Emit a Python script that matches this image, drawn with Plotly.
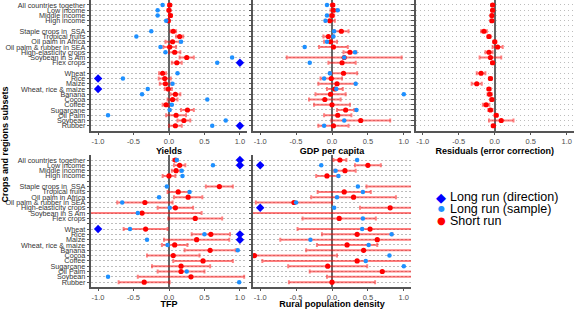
import plotly.graph_objects as go

# ---------------- data ----------------
rows = ["All countries together", "Low income", "Middle income", "High income", " ",
        "Staple crops in  SSA", "Tropical fruits", "Oil palm in Africa", "Oil palm & rubber in SEA",
        "High-elasticity crops", "Soybean in S Am", "Flex crops", "  ",
        "Wheat", "Rice", "Maize", "Wheat, rice & maize", "Banana", "Cocoa", "Coffee",
        "Sugarcane", "Oil Palm", "Soybean", "Rubber"]

N = None
# Yields
yields_sr = [0.01, 0.0, 0.02, -0.01, N, 0.06, 0.15, 0.05, 0.01, 0.08, 0.25, 0.11, N,
             -0.09, -0.06, -0.05, -0.01, 0.09, 0.05, -0.04, 0.26, 0.10, 0.21, 0.09]
yields_err = [0.02, 0.02, 0.02, 0.02, N, 0.04, 0.05, 0.10, 0.09, 0.08, 0.10, 0.07, N,
              0.05, 0.085, 0.08, 0.05, 0.07, 0.07, 0.05, 0.09, 0.14, 0.09, 0.09]
yields_sample = [-0.09, -0.16, -0.16, -0.04, N, -0.25, -0.46, 0.17, -0.12, -0.05, 0.89, 0.68, N,
                 0.12, -0.65, 0.05, -0.30, -0.38, 0.54, 0.04, 0.01, -0.86, 0.80, 0.61]
yields_dir = [N, N, N, N, N, N, N, N, N, N, N, 1.0, N,
              N, -1.0, N, -1.0, N, N, N, N, N, N, 1.0]

# GDP per capita
gdp_sr = [0.01, 0.02, 0.0, -0.03, N, 0.13, -0.05, -0.02, 0.02, 0.25, 0.17, 0.14, N,
          0.16, -0.01, 0.07, 0.04, -0.02, -0.10, 0.0, 0.19, 0.08, 0.40, 0.02]
gdp_err = [0.02, 0.04, 0.03, 0.07, N, 0.10, 0.07, 0.09, 0.20, 0.09, 0.80, 0.19, N,
           0.19, 0.15, 0.26, 0.11, 0.21, 0.22, 0.25, 0.12, 0.19, 0.41, 0.21]
gdp_sample = [-0.07, 0.08, -0.07, -0.09, N, 0.03, 0.02, -0.07, -0.38, 0.32, 0.17, -0.31, N,
              -0.03, -0.11, 0.33, 0.06, 1.0, N, N, 0.34, N, 0.17, -0.11]
gdp_dir = [N] * 24

# Residuals (error correction)
res_sr = [-0.03, -0.03, -0.04, -0.04, N, -0.15, -0.08, 0.0, 0.04, -0.08, -0.06, -0.03, N,
          -0.19, -0.06, -0.25, -0.08, -0.07, -0.04, -0.12, -0.06, 0.02, 0.09, -0.02]
res_err = [0.015, 0.015, 0.015, 0.015, N, 0.04, 0.02, 0.02, 0.07, 0.05, 0.15, 0.02, N,
           0.06, 0.02, 0.07, 0.02, 0.03, 0.02, 0.045, 0.03, 0.02, 0.17, 0.02]
res_sample = [N] * 24
res_dir = [N] * 24

# TFP
tfp_sr = [0.09, 0.15, 0.10, 0.0, N, 0.71, 0.13, 0.27, -0.34, 0.09, -0.38, 0.37, N,
          -0.33, 0.59, 0.39, 0.08, 0.58, 0.06, 0.48, 0.17, 0.17, 0.31, -0.35]
tfp_err = [0.03, 0.08, 0.06, 0.09, N, 0.19, 0.15, 0.20, 0.39, 0.25, 0.84, 0.38, N,
           0.31, 0.27, 0.46, 0.18, 0.36, 0.37, 0.42, 0.41, 0.33, 0.75, 0.36]
tfp_sample = [0.11, 0.62, 0.18, 0.19, N, -0.03, 0.29, -0.14, -0.66, 0.01, -0.44, N, N,
              -0.55, 0.50, -0.31, -0.02, 0.97, N, N, N, 0.25, -0.86, 0.99]
tfp_dir = [1.0, 1.0, N, N, N, N, N, N, N, N, N, N, N,
           -1.0, 1.0, 1.0, N, N, N, N, N, N, N, N]

# Rural population density
rur_sr = [0.11, 0.50, 0.18, -0.07, N, 1.20, 0.17, 0.30, -0.53, 0.81, 1.40, 0.10, N,
          0.53, 0.35, 0.63, 0.21, 0.44, -1.08, 0.35, -0.06, 0.70, 1.20, 0.0]
rur_err = [0.09, 0.18, 0.15, 0.15, N, 0.72, 0.37, 0.59, 0.53, 0.42, 2.60, 0.51, N,
           1.01, 0.49, 1.35, 0.42, 0.80, 1.15, 1.32, 0.55, 1.01, 1.27, 0.60]
rur_sample = [0.35, -0.15, 0.05, 0.09, N, 0.36, 0.43, 0.07, -0.50, 0.03, N, 0.43, N,
              0.42, 0.83, -0.30, 0.51, N, 0.80, 0.47, 1.0, N, N, N]
rur_dir = [N, -1.0, N, N, N, N, N, N, N, -1.0, N, N, N,
           N, N, N, N, N, N, N, N, N, N, N]

x_ticks = [-1.0, -0.5, 0.0, 0.5, 1.0]
x_tick_labels = ["-1.0", "-0.5", "0.0", "0.5", "1.0"]

panels = [
    ("Yields", yields_sr, yields_err, yields_sample, yields_dir),
    ("GDP per capita", gdp_sr, gdp_err, gdp_sample, gdp_dir),
    ("Residuals (error correction)", res_sr, res_err, res_sample, res_dir),
    ("TFP", tfp_sr, tfp_err, tfp_sample, tfp_dir),
    ("Rural population density", rur_sr, rur_err, rur_sample, rur_dir),
]

# ---------------- layout geometry (pixels) ----------------
W, H = 575, 309
x_dom_px = [(91, 247), (253, 411), (415.5, 574), (91, 247), (253, 411)]
y_dom_px = [(0, 132), (0, 132), (0, 132), (156.5, 290), (156.5, 290)]
show_labels = [True, False, False, True, False]

FONT = "Liberation Sans, Arial, sans-serif"
RED = "#FF0000"
LBLUE = "#1E90FF"
DBLUE = "#0000FF"

fig = go.Figure()


def keep(vals, extra=None):
    ys, xs, es = [], [], []
    for i, (r, v) in enumerate(zip(rows, vals)):
        if v is not None:
            ys.append(r)
            xs.append(v)
            es.append(extra[i] if extra is not None else 0)
    return xs, ys, es


layout_axes = {}
for k, (title, sr, err, sample, direc) in enumerate(panels):
    n = "" if k == 0 else str(k + 1)
    xa, ya = "x" + n, "y" + n
    xs, ys, es = keep(sr, err)
    fig.add_trace(go.Scatter(
        x=xs, y=ys, mode="markers", xaxis=xa, yaxis=ya, showlegend=False,
        marker=dict(color=RED, size=5.2),
        error_x=dict(type="data", array=es, color="rgba(255,0,0,0.5)", thickness=2, width=2),
        name="Short run"))
    xs, ys, _ = keep(sample)
    if xs:
        fig.add_trace(go.Scatter(x=xs, y=ys, mode="markers", xaxis=xa, yaxis=ya,
                                 showlegend=False, marker=dict(color=LBLUE, size=4.5),
                                 name="Long run (sample)"))
    xs, ys, _ = keep(direc)
    if xs:
        fig.add_trace(go.Scatter(x=xs, y=ys, mode="markers", xaxis=xa, yaxis=ya,
                                 showlegend=False,
                                 marker=dict(color=DBLUE, size=6.5, symbol="diamond"),
                                 name="Long run (direction)"))

    x0, x1 = x_dom_px[k]
    y0, y1 = y_dom_px[k]
    layout_axes["xaxis" + n] = dict(
        domain=[x0 / W, x1 / W], anchor=ya, range=[-1.1, 1.1],
        tickmode="array", tickvals=x_ticks, ticktext=x_tick_labels,
        showgrid=False, zeroline=True, zerolinecolor="#666666", zerolinewidth=2,
        showline=True, linecolor="#555555", linewidth=1.5,
        ticks="outside", ticklen=2.5, tickcolor="#555555", tickwidth=1,
        tickfont=dict(family=FONT, size=7.5, color="#4D4D4D"),
        title=dict(text=title, standoff=0,
                   font=dict(family=FONT, size=9, color="#000000", weight="bold")),
    )
    layout_axes["yaxis" + n] = dict(
        domain=[1 - y1 / H, 1 - y0 / H], anchor=xa, type="category",
        categoryorder="array", categoryarray=rows, range=[23.95, -0.95],
        tickmode="array", tickvals=rows, ticktext=rows,
        showgrid=True, gridcolor="#BDBDBD", gridwidth=1, griddash="1.5px,2.5px",
        zeroline=False, showline=True, linecolor="#555555", linewidth=1.5,
        ticks="outside", ticklen=2.5, tickcolor="#555555", tickwidth=1,
        showticklabels=show_labels[k],
        tickfont=dict(family=FONT, size=7.2, color="#333333"),
    )

annotations = [
    dict(text="Crops and regions subsets", x=5 / W, y=1 - 146 / H, xref="paper", yref="paper",
         xanchor="center", yanchor="middle", textangle=-90, showarrow=False,
         font=dict(family=FONT, size=9, color="#000000", weight="bold")),
]
legend_items = [("Long run (direction)", "\u25C6", DBLUE, 13, 199),
                ("Long run (sample)", "\u25CF", LBLUE, 8, 211),
                ("Short run", "\u25CF", RED, 10, 223)]
for label, glyph, col, gsize, ypx in legend_items:
    annotations.append(dict(text=glyph, x=441 / W, y=1 - ypx / H, xref="paper", yref="paper",
                            xanchor="center", yanchor="middle", showarrow=False, borderpad=0,
                            font=dict(family="DejaVu Sans", size=gsize, color=col)))
    annotations.append(dict(text=label, x=449 / W, y=1 - ypx / H, xref="paper", yref="paper",
                            xanchor="left", yanchor="middle", showarrow=False, borderpad=0,
                            font=dict(family=FONT, size=12.5, color="#000000")))

fig.update_layout(
    width=W, height=H, margin=dict(l=0, r=0, t=0, b=0),
    paper_bgcolor="white", plot_bgcolor="white",
    showlegend=False, annotations=annotations, **layout_axes,
)

fig.write_html("out.html", config={"displayModeBar": False},
               post_script="document.body.style.margin='0px';")
